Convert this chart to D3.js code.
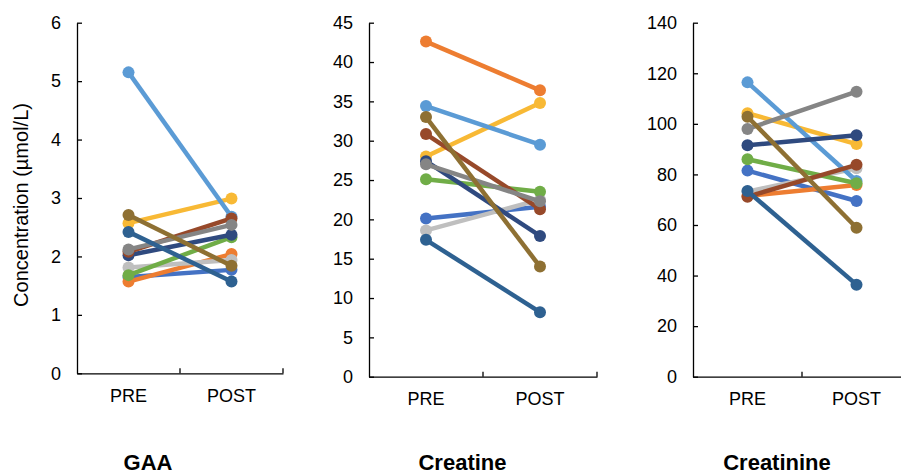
<!DOCTYPE html>
<html>
<head>
<meta charset="utf-8">
<script src="https://cdn.jsdelivr.net/npm/d3@7/dist/d3.min.js"></script>
<style>
  html, body { margin: 0; padding: 0; background: #fff; }
  svg { display: block; }
  text { font-family: "Liberation Sans", Arial, sans-serif; fill: #000; }
</style>
</head>
<body>
<svg id="chart" width="901" height="476"></svg>
<script>
// ---- Data ----
const categories = ["PRE", "POST"];
const seriesColors = ["#4472C4", "#ED7D31", "#BFBFBF", "#F8B935", "#5B9BD5", "#70AD47",
                      "#2F4A7F", "#97492A", "#858585", "#8E7033", "#2E6191"];

const gaaPre   = [1.65, 1.57, 1.81, 2.57, 5.15, 1.68, 2.02, 2.08, 2.12, 2.71, 2.42];
const gaaPost  = [1.77, 2.04, 1.94, 2.99, 2.68, 2.33, 2.37, 2.65, 2.54, 1.84, 1.57];
const gaaTicks = [0, 1, 2, 3, 4, 5, 6];

const creatinePre   = [20.1, 42.6, 18.6, 28.0, 34.4, 25.1, 27.4, 30.85, 27.0, 33.0, 17.4];
const creatinePost  = [21.6, 36.4, 22.5, 34.8, 29.5, 23.5, 17.9, 21.3, 22.3, 14.0, 8.2];
const creatineTicks = [0, 5, 10, 15, 20, 25, 30, 35, 40, 45];

const creatininePre   = [81.5, 71.5, 73.2, 104.2, 116.4, 86.0, 91.5, 71.2, 98.0, 102.8, 73.4];
const creatininePost  = [69.5, 75.8, 82.4, 92.0, 77.4, 76.5, 95.5, 83.8, 112.7, 58.9, 36.4];
const creatinineTicks = [0, 20, 40, 60, 80, 100, 120, 140];

const panelTitles = ["GAA", "Creatine", "Creatinine"];
const yAxisLabel = "Concentration (\u00B5mol/L)";

// ---- Layout ----
const panels = [
  { title: panelTitles[0], pre: gaaPre, post: gaaPost, ticks: gaaTicks,
    x0: 77, x1: 283, yTop: 22.7, yBot: 373.3, titleX: 148 },
  { title: panelTitles[1], pre: creatinePre, post: creatinePost, ticks: creatineTicks,
    x0: 369, x1: 597, yTop: 22.7, yBot: 376.7, titleX: 462.5 },
  { title: panelTitles[2], pre: creatininePre, post: creatininePost, ticks: creatinineTicks,
    x0: 693, x1: 911, yTop: 22.7, yBot: 376.7, titleX: 777 }
];

const svg = d3.select("#chart");

panels.forEach(p => {
  const x = d3.scaleBand().domain(categories).range([p.x0, p.x1]).padding(0);
  const y = d3.scaleLinear().domain([0, d3.max(p.ticks)]).range([p.yBot, p.yTop]);
  const g = svg.append("g");

  // y axis
  const ya = g.append("g").attr("transform", `translate(${p.x0},0)`)
    .call(d3.axisLeft(y).tickValues(p.ticks).tickFormat(d3.format("d"))
      .tickSizeInner(-5).tickSizeOuter(0).tickPadding(16));
  ya.select(".domain").attr("stroke", "#000").attr("stroke-width", 1.3);
  ya.selectAll(".tick line").attr("stroke", "#000").attr("stroke-width", 1.3);
  ya.selectAll(".tick text").style("font-size", "18px").attr("fill", "#000");

  // x axis
  const xa = g.append("g").attr("transform", `translate(0,${p.yBot})`)
    .call(d3.axisBottom(x).tickSize(0).tickPadding(16));
  xa.select(".domain").attr("stroke", "#000").attr("stroke-width", 1.3);
  xa.selectAll(".tick text").style("font-size", "18px").attr("fill", "#000");

  // boundary ticks (inside)
  const bounds = categories.slice(1).map(c => x(c)).concat([p.x1]);
  g.selectAll(".btick").data(bounds).enter().append("line")
    .attr("x1", d => d).attr("x2", d => d)
    .attr("y1", p.yBot).attr("y2", p.yBot - 5)
    .attr("stroke", "#000").attr("stroke-width", 1.3);

  // series
  const cx = c => x(c) + x.bandwidth() / 2;
  p.pre.forEach((v, i) => {
    const vals = [v, p.post[i]];
    const sg = g.append("g");
    sg.append("path")
      .datum(vals)
      .attr("d", d3.line().x((d, j) => cx(categories[j])).y(d => y(d)))
      .attr("fill", "none").attr("stroke", seriesColors[i]).attr("stroke-width", 4.5);
    sg.selectAll("circle").data(vals).enter().append("circle")
      .attr("cx", (d, j) => cx(categories[j])).attr("cy", d => y(d))
      .attr("r", 6).attr("fill", seriesColors[i]);
  });

  // panel title
  svg.append("text").attr("x", p.titleX).attr("y", 470)
    .attr("text-anchor", "middle").style("font-size", "22px").style("font-weight", "bold")
    .text(p.title);
});

// y-axis label
svg.append("text")
  .attr("transform", "translate(28,205) rotate(-90)")
  .attr("text-anchor", "middle")
  .style("font-size", "20px")
  .text(yAxisLabel);
</script>
</body>
</html>
